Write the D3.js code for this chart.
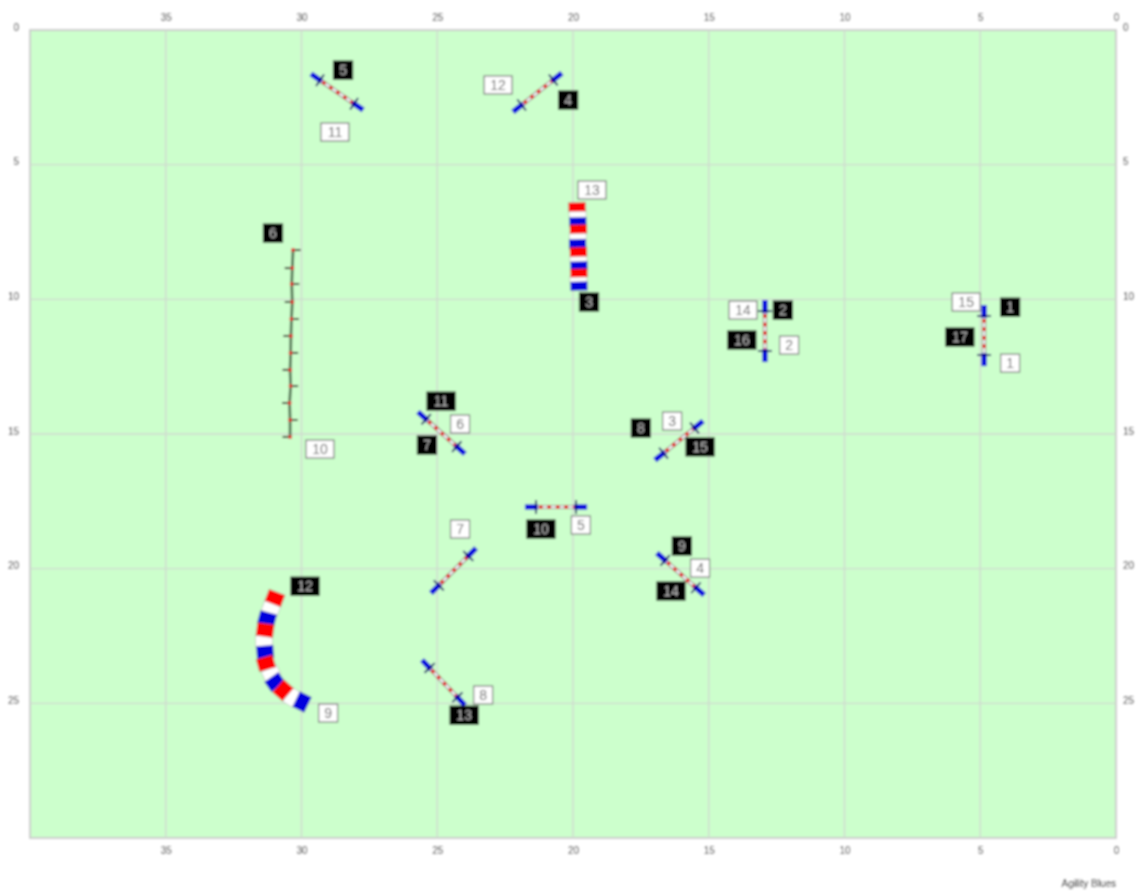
<!DOCTYPE html>
<html><head><meta charset="utf-8">
<script src="https://cdn.jsdelivr.net/npm/d3@7"></script>
<style>
html,body{margin:0;padding:0;background:#fff}
svg{display:block}
text{font-family:"Liberation Sans",Arial,sans-serif}
</style></head><body><div id="chart"></div>
<script>
const xTickValues=[35,30,25,20,15,10,5,0];
const yTickValues=[0,5,10,15,20,25];
const xGridValues=[35,30,25,20,15,10,5];
const yGridValues=[5,10,15,20,25];
const footerText="Agility Blues";
// jumps in metres: [x1,y1,x2,y2]
const jumps=[
 [4.86,10.21,4.86,12.48],[12.93,10.03,12.93,12.33],[16.98,15.97,15.21,14.52],
 [22.21,3.04,20.41,1.60],[29.65,1.63,27.73,2.97],[25.71,14.18,23.98,15.74],
 [25.23,20.91,23.57,19.24],[25.56,23.39,23.98,25.07],[21.77,17.71,19.48,17.71],
 [16.91,19.42,15.17,20.98]];
const straightTunnelX=[19.85,19.83,19.82,19.80,19.82,19.83,19.80,19.80,19.78,19.78,19.80,19.78];
const straightTunnelY=[6.57,6.83,7.13,7.39,7.65,7.95,8.24,8.50,8.76,9.02,9.25,9.51];
const curvedTunnelX=[30.98,31.12,31.27,31.34,31.38,31.34,31.31,31.12,30.98,30.68,30.35,29.98];
const curvedTunnelY=[21.09,21.46,21.87,22.28,22.69,23.10,23.51,23.88,24.21,24.51,24.77,24.95];
const tunnelColours=["#ff0000","#ffffff","#0000dd"];
const weaveX=[30.31,30.34,30.36,30.34,30.37,30.39,30.40,30.42,30.40,30.44,30.42,30.42];
const weaveY=[8.17,8.84,9.43,10.10,10.73,11.36,11.99,12.62,13.22,13.85,14.48,15.11];
const blackNumbers=[1,2,3,4,5,6,7,8,9,10,11,12,13,14,15,16,17];
const blackX=[3.90,12.27,19.41,20.18,28.47,31.05,25.38,17.50,15.99,21.18,24.86,29.87,24.01,16.39,15.32,13.78,5.75];
const blackY=[10.29,10.40,10.10,2.60,1.49,7.54,15.41,14.78,19.16,18.53,13.78,20.65,25.44,20.83,15.48,11.51,11.40];
const whiteNumbers=[1,2,3,4,5,6,7,8,9,10,11,12,13,14,15];
const whiteX=[3.90,12.04,16.35,15.32,19.71,24.16,24.16,23.31,29.02,29.32,28.77,22.76,19.30,13.74,5.52];
const whiteY=[12.37,11.70,14.52,19.98,18.38,14.63,18.53,24.69,25.36,15.56,3.79,2.04,5.94,10.40,10.10];

const W=1144,H=891;
const m={l:30,r:1116,t:30,b:838};
const x=d3.scaleLinear().domain([40,0]).range([m.l,m.r]);
const y=d3.scaleLinear().domain([0,30]).range([m.t,m.b]);
const root=d3.select("#chart").append("svg").attr("width",W).attr("height",H);
root.append("defs").append("filter").attr("id","soft")
  .attr("filterUnits","userSpaceOnUse").attr("x",0).attr("y",0).attr("width",W).attr("height",H)
  .append("feGaussianBlur").attr("stdDeviation",0.85);
const svg=root.append("g").attr("filter","url(#soft)");
svg.append("rect").attr("width",W).attr("height",H).attr("fill","#fff");
svg.append("rect").attr("x",m.l).attr("y",m.t).attr("width",m.r-m.l).attr("height",m.b-m.t)
  .attr("fill","#ccffcc").attr("stroke","#cccccc").attr("stroke-width",2);
// grid
const gridG=svg.append("g");
gridG.selectAll("line.v").data(xGridValues).join("line").attr("x1",d=>x(d)).attr("x2",d=>x(d))
  .attr("y1",m.t).attr("y2",m.b).attr("stroke","#d0d8d0").attr("stroke-width",1.4);
gridG.selectAll("line.h").data(yGridValues).join("line").attr("y1",d=>y(d)).attr("y2",d=>y(d))
  .attr("x1",m.l).attr("x2",m.r).attr("stroke","#d0d8d0").attr("stroke-width",1.4);
// axes labels
function axis(gen,tx,ty,vals){
  const g=svg.append("g").attr("transform",`translate(${tx},${ty})`)
    .call(gen.tickValues(vals).tickSize(0).tickPadding(0).tickFormat(d3.format("d")));
  g.select(".domain").remove();
  g.selectAll("text").attr("font-size",10).attr("fill","#222").style("font-family",'"Liberation Sans",Arial,sans-serif');
  return g;
}
axis(d3.axisTop(x),0,21,xTickValues);
axis(d3.axisBottom(x),0,847,xTickValues);
axis(d3.axisLeft(y),19,-3,yTickValues);
axis(d3.axisRight(y),1123,-3,yTickValues);
svg.append("text").attr("x",1116).attr("y",887).attr("text-anchor","end").attr("font-size",10).attr("fill","#000").text(footerText);

// jumps
const jumpG=svg.append("g").selectAll("g").data(jumps).join("g");
jumpG.each(function(d){
  const g=d3.select(this);
  const a=[x(d[0]),y(d[1])],b=[x(d[2]),y(d[3])];
  const len=Math.hypot(b[0]-a[0],b[1]-a[1]);
  const ux=(b[0]-a[0])/len,uy=(b[1]-a[1])/len;
  const p=t=>[a[0]+ux*t,a[1]+uy*t];
  const seg=(t0,t1,c,w,dash)=>{const s=p(t0),e=p(t1);
    const l=g.append("line").attr("x1",s[0]).attr("y1",s[1]).attr("x2",e[0]).attr("y2",e[1])
      .attr("stroke",c).attr("stroke-width",w);
    if(dash)l.attr("stroke-dasharray",dash);return l;};
  seg(12,len-12,"#808080",4.2);
  seg(12,len-12,"#f0f0f0",2.6);
  seg(14,len-12,"#dd0000",3.6,"3.5 5");
  seg(0,13,"#0000dd",5.2);
  seg(len-13,len,"#0000dd",5.2);
  [11,len-11].forEach(t=>{const c=p(t);
    g.append("line").attr("x1",c[0]-uy*7).attr("y1",c[1]+ux*7).attr("x2",c[0]+uy*7).attr("y2",c[1]-ux*7)
     .attr("stroke","#0a0a66").attr("stroke-width",1.8);});
});

// tunnels: coloured rings sit above the white ones and overlap them slightly
function tunnel(xs,ys,span){
  const pts=xs.map((v,i)=>({p:[x(v),y(ys[i])],i}));
  const n=pts.length;
  const g=svg.append("g");
  const order=pts.slice().sort((a,b)=>(a.i%3===1?0:1)-(b.i%3===1?0:1));
  g.selectAll("rect").data(order).join("rect").each(function(d){
    const i=d.i;
    const pr=pts[Math.max(i-span,0)].p,nx=pts[Math.min(i+span,n-1)].p;
    const ang=Math.atan2(nx[1]-pr[1],nx[0]-pr[0])*180/Math.PI;
    const a=pts[Math.max(i-1,0)].p,b=pts[Math.min(i+1,n-1)].p;
    const seg=Math.hypot(b[0]-a[0],b[1]-a[1])/((i==0||i==n-1)?1:2);
    const pad=i%3===1?0:0.9;
    d3.select(this).attr("x",-seg/2-pad).attr("y",-8.5).attr("width",seg+2*pad).attr("height",17)
      .attr("transform",`translate(${d.p[0]},${d.p[1]}) rotate(${ang})`)
      .attr("fill",tunnelColours[i%3]).attr("stroke","#8a8a8a").attr("stroke-opacity",.5).attr("stroke-width",.7);
  });
}
tunnel(straightTunnelX,straightTunnelY,12);
tunnel(curvedTunnelX,curvedTunnelY,1);

// weave poles
svg.append("path").datum(weaveX.map((v,i)=>[x(v),y(weaveY[i])]))
  .attr("d",d3.line()).attr("fill","none").attr("stroke","#4f6f4f").attr("stroke-width",2.8);
const weaveG=svg.append("g");
weaveX.forEach((v,i)=>{
  const px=x(v),py=y(weaveY[i]),dir=i%2?-1:1;
  weaveG.append("line").attr("x1",px).attr("y1",py).attr("x2",px+dir*7.5).attr("y2",py)
    .attr("stroke","#332222").attr("stroke-width",2);
  weaveG.append("circle").attr("cx",px).attr("cy",py).attr("r",2).attr("fill","#dd2222");
});

// number labels
function labels(nums,xs,ys,fill,stroke,colour){
  const g=svg.append("g").selectAll("g").data(nums).join("g")
    .attr("transform",(d,i)=>`translate(${x(xs[i])},${y(ys[i])})`);
  g.append("rect").attr("x",d=>d>9?-14:-9.5).attr("y",-9).attr("width",d=>d>9?28:19).attr("height",18)
    .attr("fill",fill).attr("stroke",stroke).attr("stroke-width",1.2);
  g.append("text").attr("text-anchor","middle").attr("y",5).attr("font-size",14).attr("fill",colour).text(d=>d);
}
labels(whiteNumbers,whiteX,whiteY,"#ffffff","#777777","#666666");
labels(blackNumbers,blackX,blackY,"#000000","#000000","#b8b8b8");
</script></body></html>
